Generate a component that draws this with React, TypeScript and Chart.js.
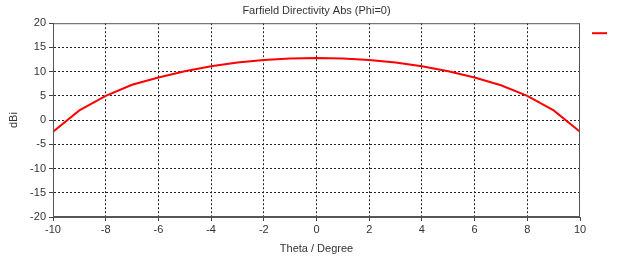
import React, { useEffect, useRef } from "react";
import { Chart, registerables } from "chart.js";

Chart.register(...registerables);

const thetaDeg = [-10, -9, -8, -7, -6, -5, -4, -3, -2, -1, 0, 1, 2, 3, 4, 5, 6, 7, 8, 9, 10];
const directivityDbi = [-2.4, 2.0, 5.0, 7.3, 8.8, 10.1, 11.1, 11.9, 12.4, 12.7, 12.8, 12.7, 12.4, 11.9, 11.1, 10.1, 8.8, 7.2, 5.0, 2.0, -2.4];
const chartTitle = "Farfield Directivity Abs (Phi=0)";
const xTitle = "Theta / Degree";
const yTitle = "dBi";
const seriesLabel = "";

const FONT = "'Liberation Sans', Arial, sans-serif";
const TEXT = "#333333";

const legendLine = {
  id: "legendLine",
  afterDraw(chart: any) {
    const { ctx, chartArea } = chart;
    ctx.save();
    ctx.strokeStyle = "#ff0000";
    ctx.lineWidth = 2;
    ctx.beginPath();
    ctx.moveTo(chartArea.right + 12, chartArea.top + 10);
    ctx.lineTo(chartArea.right + 27, chartArea.top + 10);
    ctx.stroke();
    ctx.strokeStyle = "#555555";
    ctx.lineWidth = 1;
    ctx.strokeRect(chartArea.left + 0.5, chartArea.top + 0.5, chartArea.right - chartArea.left - 1, chartArea.bottom - chartArea.top - 1);
    ctx.restore();
  },
};

export default function App() {
  const ref = useRef<HTMLCanvasElement>(null);
  useEffect(() => {
    if (!ref.current) return;
    const edge = (min: number, max: number) => (c: any) =>
      c.tick && (c.tick.value === min || c.tick.value === max) ? "rgba(0,0,0,0)" : "#222222";
    const chart = new Chart(ref.current, {
      type: "line",
      data: {
        datasets: [
          {
            label: seriesLabel,
            data: thetaDeg.map((t, i) => ({ x: t, y: directivityDbi[i] })),
            borderColor: "#ff0000",
            backgroundColor: "#ff0000",
            borderWidth: 2,
            pointRadius: 0,
            tension: 0,
          },
        ],
      },
      options: {
        animation: false,
        responsive: false,
        layout: { padding: { left: 0, right: 43, top: 0, bottom: 0 } },
        plugins: {
          legend: { display: false },
          tooltip: { enabled: false },
          title: {
            display: true,
            text: chartTitle,
            color: TEXT,
            font: { family: FONT, size: 11, weight: "normal" },
            padding: { top: 4, bottom: 6 },
            fullSize: false,
          } as any,
        },
        scales: {
          x: {
            type: "linear",
            min: -10,
            max: 10,
            ticks: { stepSize: 2, color: TEXT, font: { family: FONT, size: 11 }, padding: 2, maxRotation: 0 },
            grid: { color: edge(-10, 10), tickLength: 4, tickColor: "#444444", tickBorderDash: [], lineWidth: 1 },
            border: { display: true, color: "#555555", width: 1, dash: [2, 2] },
            title: { display: true, text: xTitle, color: TEXT, font: { family: FONT, size: 11 }, padding: { top: 2, bottom: 6 } },
            afterFit: (s: any) => { s.height = 45; },
          },
          y: {
            min: -20,
            max: 20,
            ticks: { stepSize: 5, color: TEXT, font: { family: FONT, size: 11 }, padding: 3 },
            grid: { color: edge(-20, 20), tickLength: 4, tickColor: "#444444", tickBorderDash: [], lineWidth: 1 },
            border: { display: true, color: "#555555", width: 1, dash: [2, 2] },
            title: { display: true, text: yTitle, color: TEXT, font: { family: FONT, size: 11 }, padding: { top: 7, bottom: 8 } },
            afterFit: (s: any) => { s.width = 53; },
          },
        },
      },
      plugins: [legendLine],
    });
    return () => chart.destroy();
  }, []);
  return (
    <div style={{ position: "absolute", left: 0, top: 0, width: 623, height: 262, background: "#fff" }}>
      <canvas ref={ref} width={623} height={262} style={{ width: 623, height: 262, display: "block" }} />
    </div>
  );
}
